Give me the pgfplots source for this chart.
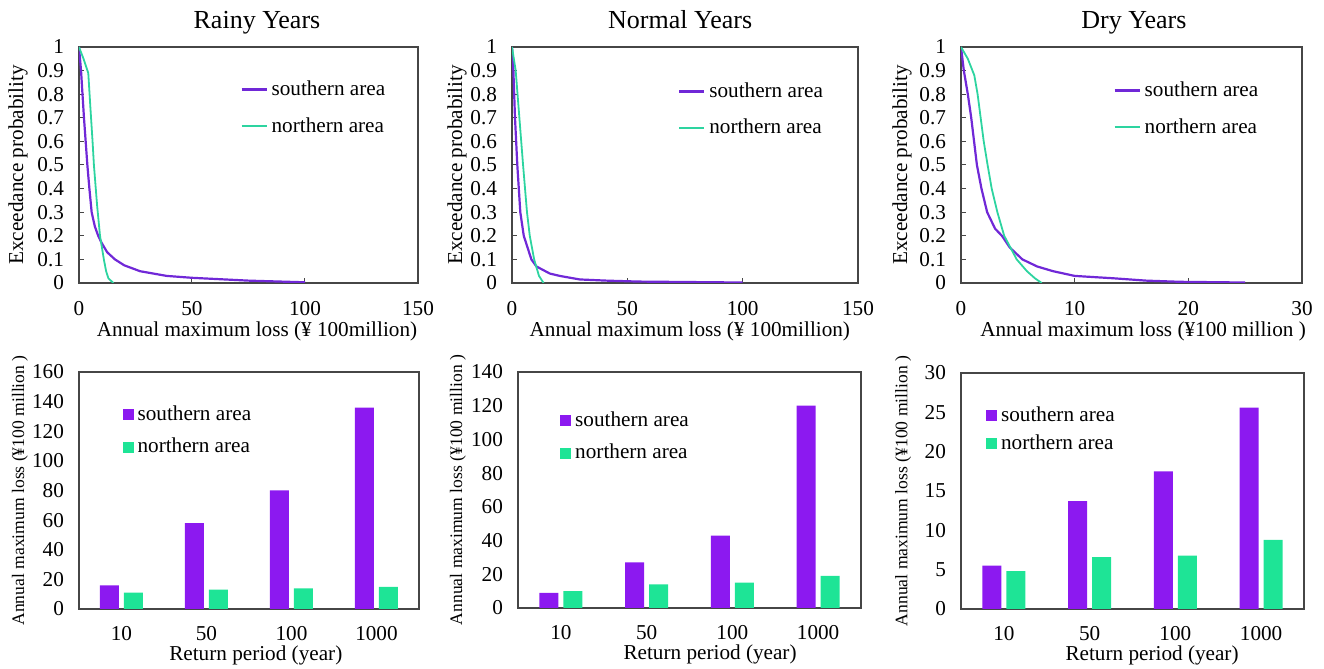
\documentclass[border=0pt]{standalone}
\usepackage{fontspec}
\setmainfont{Liberation Serif}
\usepackage{pgfplots}
\pgfplotsset{compat=1.18}
\definecolor{purpL}{RGB}{112,40,215}
\definecolor{greenL}{RGB}{45,212,160}
\definecolor{purpB}{RGB}{140,25,240}
\definecolor{greenB}{RGB}{30,228,150}
\definecolor{axgray}{RGB}{70,70,70}
\newcommand{\fs}{\fontsize{10.6}{12}\selectfont}
\pgfplotsset{
  every axis title shift=0pt,
  base/.style={scale only axis, anchor=south west,
    axis line style={axgray, line width=0.6pt},
    tick style={axgray, line width=0.5pt},
    ticklabel style={font=\fs},
    label style={font=\fs},
    title style={font=\fontsize{13}{15}\selectfont},
    /pgf/number format/assume math mode=true,
    tick align=inside, tick pos=left, major tick length=2.5pt,
    yticklabel style={xshift=-4pt},
    legend cell align=left,
  },
  top/.style={base, xmin=0, ymin=0, ymax=1,
    xticklabel style={yshift=-5.5pt},
    ytick={0,0.1,0.2,0.3,0.4,0.5,0.6,0.7,0.8,0.9,1},
    yticklabels={0,0.1,0.2,0.3,0.4,0.5,0.6,0.7,0.8,0.9,1},
    ylabel={Exceedance probability},
    legend style={draw=none, fill=none, inner sep=0pt, font=\fs, row sep=5.5pt, anchor=north west},
    legend image code/.code={\draw[##1] (0pt,0pt) -- (12.5pt,0pt);},
  },
  bot/.style={base, xmin=-0.5, xmax=3.5, ymin=0,
    xticklabel style={yshift=-2.5pt},
    xtick={0,1,2,3}, xticklabels={10,50,100,1000},
    xtick style={draw=none}, ytick style={draw=none},
    ybar, bar width=9.5pt,
    xlabel={Return period (year)},
    ylabel={Annual maximum loss (¥100 million )},
    ylabel style={font=\fontsize{8.8}{10}\selectfont},
    legend style={draw=none, fill=none, inner sep=0pt, font=\fs, anchor=north west},
    legend image code/.code={\fill[##1] (0pt,-2.75pt) rectangle (5.5pt,2.75pt);},
  },
  sl/.style={purpL, line width=1.1pt},
  nl/.style={greenL, line width=0.9pt},
  sb/.style={fill=purpB, draw=none, bar shift=-6pt},
  nb/.style={fill=greenB, draw=none, bar shift=6pt},
}
\begin{document}
\begin{tikzpicture}
\useasboundingbox (0pt,0pt) rectangle (662pt,334.5pt);

% ---------- Rainy, curves
\begin{axis}[top, at={(39.5pt,193pt)}, width=169.5pt, height=118pt,
  xmax=150, xtick={0,50,100,150},
  title={Rainy Years}, title style={at={(axis description cs:0.525,1.08)}, anchor=base},
  xlabel={Annual maximum loss (¥ 100million)},
  xlabel style={at={(axis description cs:0.525,-0.203)}, anchor=center},
  ylabel style={at={(axis description cs:-0.18,0.5)}, anchor=center},
  legend style={at={(axis description cs:0.475,0.876)}}]
\addplot[sl] coordinates {(0,1) (0.9,0.9) (2.2,0.7) (3.7,0.5) (4.6,0.4) (5.6,0.3) (7,0.24) (8.5,0.2) (10,0.17) (12.5,0.13) (15.9,0.1) (20,0.075) (27,0.05) (38.8,0.03) (50,0.022) (75,0.01) (100,0.003)};
\addplot[nl] coordinates {(0,1) (2,0.95) (4.1,0.89) (5,0.75) (6,0.6) (6.6,0.5) (8,0.33) (9.3,0.2) (11,0.1) (12,0.05) (13,0.02) (15.2,0)};
\legend{southern area, northern area}
\end{axis}

% ---------- Normal, curves
\begin{axis}[top, at={(256pt,193pt)}, width=173pt, height=118pt,
  xmax=150, xtick={0,50,100,150},
  title={Normal Years}, title style={at={(axis description cs:0.486,1.08)}, anchor=base},
  xlabel={Annual maximum loss (¥ 100million)},
  xlabel style={at={(axis description cs:0.514,-0.203)}, anchor=center},
  ylabel style={at={(axis description cs:-0.159,0.5)}, anchor=center},
  legend style={at={(axis description cs:0.479,0.868)}}]
\addplot[sl] coordinates {(0,1) (0.6,0.9) (1.3,0.7) (2.3,0.5) (3.6,0.3) (5.1,0.2) (8.4,0.1) (10.6,0.07) (16.4,0.04) (20.7,0.03) (29.4,0.015) (41,0.01) (55,0.006) (100,0.002)};
\addplot[nl] coordinates {(0,1) (1.6,0.9) (4.8,0.5) (6.5,0.3) (7.7,0.2) (9.6,0.1) (11.7,0.03) (13.7,0)};
\legend{southern area, northern area}
\end{axis}

% ---------- Dry, curves
\begin{axis}[top, at={(480.5pt,193pt)}, width=170.5pt, height=118pt,
  xmax=30, xtick={0,10,20,30},
  title={Dry Years}, title style={at={(axis description cs:0.507,1.08)}, anchor=base},
  xlabel={Annual maximum loss (¥100 million )},
  xlabel style={at={(axis description cs:0.534,-0.203)}, anchor=center},
  ylabel style={at={(axis description cs:-0.173,0.5)}, anchor=center},
  legend style={at={(axis description cs:0.446,0.872)}}]
\addplot[sl] coordinates {(0,1) (0.25,0.9) (0.6,0.8) (0.9,0.7) (1.4,0.5) (1.8,0.4) (2.3,0.3) (3.0,0.23) (3.6,0.2) (4.3,0.15) (5.4,0.1) (6.7,0.07) (8.1,0.05) (10,0.03) (13.4,0.02) (16.3,0.01) (19.3,0.005) (25,0.002)};
\addplot[nl] coordinates {(0,1) (0.6,0.95) (1.17,0.88) (1.46,0.8) (2.0,0.6) (2.34,0.5) (2.7,0.4) (3.2,0.3) (3.8,0.2) (4.9,0.1) (5.8,0.05) (6.5,0.02) (7.1,0)};
\legend{southern area, northern area}
\end{axis}

% ---------- Rainy, bars
\begin{axis}[bot, at={(39.5pt,30pt)}, width=170pt, height=118.5pt,
  ymax=160, ytick={0,20,40,60,80,100,120,140,160},
  xlabel style={at={(axis description cs:0.52,-0.195)}, anchor=center},
  ylabel style={at={(axis description cs:-0.174,0.5)}, anchor=center},
  legend style={at={(axis description cs:0.127,0.877)}, row sep=3.5pt}]
\addplot[sb] coordinates {(0,16) (1,58) (2,80) (3,136)};
\addplot[nb] coordinates {(0,11) (1,13) (2,14) (3,15)};
\legend{southern area, northern area}
\end{axis}

% ---------- Normal, bars
\begin{axis}[bot, at={(259pt,30.5pt)}, width=171.5pt, height=118pt,
  ymax=140, ytick={0,20,40,60,80,100,120,140},
  xlabel style={at={(axis description cs:0.56,-0.195)}, anchor=center},
  ylabel style={at={(axis description cs:-0.175,0.5)}, anchor=center},
  legend style={at={(axis description cs:0.122,0.851)}, row sep=3.5pt}]
\addplot[sb] coordinates {(0,9) (1,27) (2,43) (3,120)};
\addplot[nb] coordinates {(0,10) (1,14) (2,15) (3,19)};
\legend{southern area, northern area}
\end{axis}

% ---------- Dry, bars
\begin{axis}[bot, at={(480.5pt,30pt)}, width=171.5pt, height=118pt,
  ymax=30, ytick={0,5,10,15,20,25,30},
  xlabel style={at={(axis description cs:0.557,-0.195)}, anchor=center},
  ylabel style={at={(axis description cs:-0.169,0.5)}, anchor=center},
  legend style={at={(axis description cs:0.072,0.876)}, row sep=1pt}]
\addplot[sb] coordinates {(0,5.5) (1,13.7) (2,17.5) (3,25.6)};
\addplot[nb] coordinates {(0,4.8) (1,6.6) (2,6.8) (3,8.8)};
\legend{southern area, northern area}
\end{axis}
\end{tikzpicture}
\end{document}
